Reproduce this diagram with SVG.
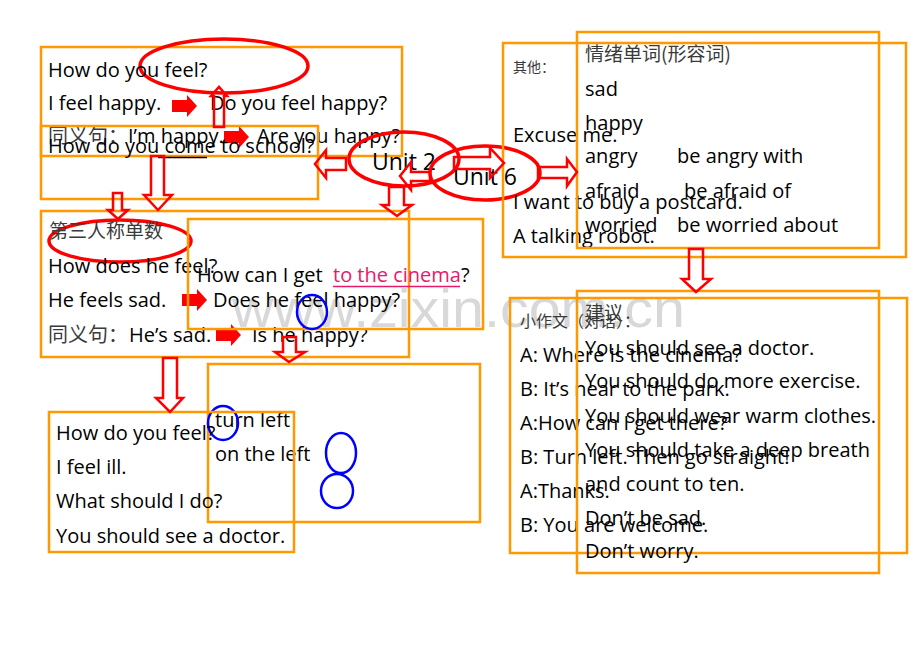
<svg xmlns="http://www.w3.org/2000/svg" xmlns:xlink="http://www.w3.org/1999/xlink" width="920" height="651" viewBox="0 0 920 651">
<style>
.box{fill:none;stroke:#FF9900;stroke-width:2.5}
.red{fill:none;stroke:#FF0000;stroke-width:3.5}
.blue{fill:none;stroke:#0000FF;stroke-width:2.5}
.t{font-family:"Open Sans","Liberation Sans",sans-serif;font-size:20px;fill:#000}
.u{font-family:"Open Sans","Liberation Sans",sans-serif;font-size:23px;fill:#000}
.cn{font-family:"Noto Sans CJK SC","Liberation Serif",serif;font-size:19px;fill:#3a3a3a}
.cns{font-family:"Noto Sans CJK SC","Liberation Serif",serif;font-size:15px;fill:#3a3a3a}
.ha{fill:none;stroke:#FF0000;stroke-width:2.5;stroke-linejoin:miter}
.sa{fill:#FF0000}
.wm{font-family:"Liberation Sans",Arial,sans-serif;font-size:54px;fill:#d8d8d8}
</style>
<defs>
<path id="sa" d="M0,-6 H15 V-11 L25,0 L15,11 V6 H0 Z"/>
</defs>
<rect width="920" height="651" fill="#fff"/>
<text class="wm" x="232" y="327" textLength="453" lengthAdjust="spacingAndGlyphs">www.zixin.com.cn</text>

<g id="box-feel">
<rect class="box" x="41" y="47" width="361" height="109"/>
<ellipse class="red" cx="224" cy="66" rx="84" ry="27"/>
<text class="t" x="48" y="77">How do you feel?</text>
<text class="t" x="48" y="110">I feel happy.</text>
<use href="#sa" class="sa" x="172" y="106"/>
<text class="t" x="210" y="110">Do you feel happy?</text>
<text class="cn" x="48" y="143" style="font-size:20px">同义句：</text>
<text class="t" x="128" y="143">I’m happy.</text>
<use href="#sa" class="sa" x="224" y="137"/>
<text class="t" x="257" y="143">Are you happy?</text>
</g>

<g id="box-school">
<rect class="box" x="41" y="126" width="277" height="73"/>
<text class="t" x="48" y="153">How do you come to school?</text>
<line x1="158" y1="157.5" x2="207" y2="157.5" stroke="#000" stroke-width="1.3"/>
</g>

<g id="unit2">
<ellipse class="red" cx="404" cy="159" rx="55" ry="27"/>
<text class="u" x="372" y="170">Unit 2</text>
</g>

<g id="unit6">
<ellipse class="red" cx="485" cy="173" rx="55" ry="27"/>
<text class="u" x="453" y="185">Unit 6</text>
</g>

<g id="box-third">
<rect class="box" x="41" y="211" width="368" height="146"/>
<ellipse class="red" cx="120" cy="241" rx="71" ry="21"/>
<text class="cn" x="49" y="238">第三人称单数</text>
<text class="t" x="48" y="273">How does he feel?</text>
<text class="t" x="48" y="307">He feels sad.</text>
<use href="#sa" class="sa" x="182" y="300"/>
<text class="t" x="213" y="307">Does he feel happy?</text>
<text class="cn" x="48" y="342" style="font-size:20px">同义句：</text>
<text class="t" x="129" y="342">He’s sad.</text>
<use href="#sa" class="sa" x="216" y="335"/>
<text class="t" x="252" y="342">Is he happy?</text>
</g>

<g id="box-cinema">
<rect class="box" x="188" y="219" width="295" height="110"/>
<text class="t" x="197" y="282">How can I get <tspan x="333" fill="#E8186E">to the cinema</tspan><tspan x="461">?</tspan></text>
<line x1="333" y1="286.5" x2="460" y2="286.5" stroke="#E8186E" stroke-width="1.5"/>
<ellipse class="blue" cx="312" cy="312" rx="15" ry="17"/>
</g>

<g id="box-turn">
<rect class="box" x="208" y="364" width="272" height="158"/>
<text class="t" x="215" y="427">turn left</text>
<text class="t" x="215" y="461">on the left</text>
<ellipse class="blue" cx="223" cy="423" rx="15" ry="17"/>
<ellipse class="blue" cx="341" cy="453" rx="15" ry="20"/>
<ellipse class="blue" cx="337" cy="491" rx="16" ry="17"/>
</g>

<g id="box-ill">
<rect class="box" x="49" y="412" width="245" height="140"/>
<text class="t" x="56" y="440">How do you feel?</text>
<text class="t" x="56" y="474">I feel ill.</text>
<text class="t" x="56" y="508">What should I do?</text>
<text class="t" x="56" y="543">You should see a doctor.</text>
</g>

<g id="box-other">
<rect class="box" x="503" y="43" width="403" height="214"/>
<text class="cns" x="513" y="72" style="font-size:14px">其他：</text>
<text class="t" x="513" y="142">Excuse me.</text>
<text class="t" x="513" y="209">I want to buy a postcard.</text>
<text class="t" x="513" y="243">A talking robot.</text>
</g>

<g id="box-emotion">
<rect class="box" x="577" y="32" width="302" height="216"/>
<text class="cn" x="585" y="61">情绪单词(形容词)</text>
<text class="t" x="585" y="96">sad</text>
<text class="t" x="585" y="130">happy</text>
<text class="t" x="585" y="163">angry</text>
<text class="t" x="677" y="163">be angry with</text>
<text class="t" x="585" y="198">afraid</text>
<text class="t" x="684" y="198">be afraid of</text>
<text class="t" x="585" y="232">worried</text>
<text class="t" x="677" y="232">be worried about</text>
</g>

<g id="box-dialog">
<rect class="box" x="510" y="298" width="397" height="255"/>
<text class="cns" x="520" y="327" style="font-size:16px">小作文（对话）：</text>
<text class="t" x="520" y="362">A: Where is the cinema?</text>
<text class="t" x="520" y="396">B: It’s near to the park.</text>
<text class="t" x="520" y="430">A:How can I get there?</text>
<text class="t" x="520" y="464">B: Turn left. Then go straight!</text>
<text class="t" x="520" y="498">A:Thanks.</text>
<text class="t" x="520" y="532">B: You are welcome.</text>
</g>

<g id="box-advice">
<rect class="box" x="577" y="291" width="302" height="282"/>
<text class="cn" x="585" y="320">建议</text>
<text class="t" x="585" y="355">You should see a doctor.</text>
<text class="t" x="585" y="388">You should do more exercise.</text>
<text class="t" x="585" y="423">You should wear warm clothes.</text>
<text class="t" x="585" y="457">You should take a deep breath</text>
<text class="t" x="585" y="491">and count to ten.</text>
<text class="t" x="585" y="525">Don’t be sad.</text>
<text class="t" x="585" y="558">Don’t worry.</text>
</g>

<g id="connectors">
<path class="ha" d="M214,127 V96 H211 L219,87 L227,96 H224 V127 Z"/>
<path class="ha" d="M151,156 H164 V195 H172 L158,210 L144,195 H151 Z"/>
<path class="ha" d="M113,193 H122 V210 H128 L118,219 L108,210 H113 Z"/>
<path class="ha" d="M346,158 V170 H326 V178 L315,164 L326,150 V158 Z"/>
<path class="ha" d="M430,172 V181 H411 V190 L400,176 L411,162 V172 Z"/>
<path class="ha" d="M454,157 H490 V148 L504,163 L490,178 V169 H454 Z"/>
<path class="ha" d="M538,167 H567 V159 L577,172 L567,186 V178 H538 Z"/>
<path class="ha" d="M389,187 H404 V205 H412 L397,216 L382,205 H389 Z"/>
<path class="ha" d="M283,337 H296 V352 H305 L289,362 L275,352 H283 Z"/>
<path class="ha" d="M163,358 H177 V398 H183 L170,412 L156,398 H163 Z"/>
<path class="ha" d="M689,249 H703 V279 H711 L696,292 L682,279 H689 Z"/>
</g>
</svg>
